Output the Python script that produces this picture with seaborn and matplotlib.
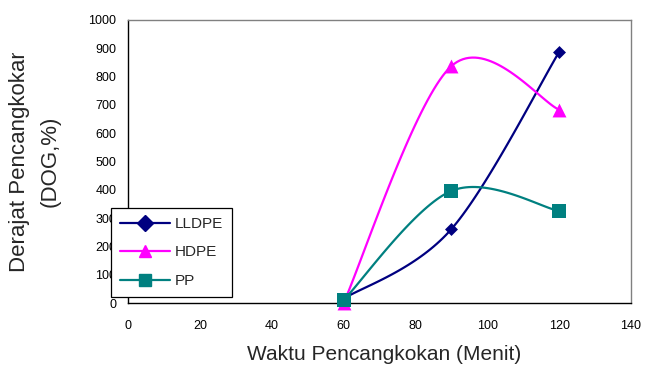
import numpy as np
import pandas as pd
import matplotlib
matplotlib.use("Agg")
import matplotlib.pyplot as plt
import seaborn as sns
from matplotlib.lines import Line2D
from matplotlib.transforms import Bbox

# Grafting time (minutes) and degree of grafting (%) for each polymer
waktu = [60, 90, 120]
lldpe = [15, 261, 887]
hdpe = [0, 837, 683]
pp = [10, 396, 325]
series_names = ["LLDPE", "HDPE", "PP"]
x_ticks = [0, 20, 40, 60, 80, 100, 120, 140]
y_ticks = [0, 100, 200, 300, 400, 500, 600, 700, 800, 900, 1000]

colors = {"LLDPE": "#000080", "HDPE": "#FF00FF", "PP": "#008080"}
markers = {"LLDPE": "D", "HDPE": "^", "PP": "s"}
msize = {"LLDPE": 6.6, "HDPE": 10, "PP": 10}


def smooth_curve(xs, ys, n=40):
    """Bezier smoothing through the points, tangents from neighbouring points."""
    P = np.column_stack([xs, ys]).astype(float)
    parts = [P[:1]]
    t = np.linspace(0, 1, n)[1:, None]
    for i in range(len(P) - 1):
        p0 = P[max(i - 1, 0)]
        p1 = P[i]
        p2 = P[i + 1]
        p3 = P[min(i + 2, len(P) - 1)]
        c1 = p1 + (p2 - p0) / 6.0
        c2 = p2 - (p3 - p1) / 6.0
        seg = ((1 - t) ** 3) * p1 + 3 * ((1 - t) ** 2) * t * c1 \
            + 3 * (1 - t) * (t ** 2) * c2 + (t ** 3) * p2
        parts.append(seg)
    return np.vstack(parts)


sns.set_style("white")
plt.rcParams["font.family"] = ["Liberation Sans", "DejaVu Sans"]

fig = plt.figure(figsize=(6.48, 3.68), dpi=100)
ax = fig.add_axes([128 / 648, 1 - 303 / 368, 503 / 648, 283 / 368])

values = {"LLDPE": lldpe, "HDPE": hdpe, "PP": pp}
for k, name in enumerate(series_names):
    curve = smooth_curve(waktu, values[name])
    df = pd.DataFrame({"x": curve[:, 0], "y": curve[:, 1]})
    sns.lineplot(data=df, x="x", y="y", sort=False, estimator=None,
                 color=colors[name], lw=1.6, ax=ax, zorder=2 + k)
for k, name in enumerate(series_names):
    sns.scatterplot(x=waktu, y=values[name], marker=markers[name],
                    s=msize[name] ** 2, color=colors[name], linewidth=0,
                    ax=ax, zorder=6 + k, clip_on=False)

ax.set_xlim(0, 140)
ax.set_ylim(0, 1000)
ax.set_xticks(x_ticks)
ax.set_yticks(y_ticks)
ax.set_xlabel("")
ax.set_ylabel("")
ax.tick_params(axis="both", direction="out", length=4, width=1,
               color="black", labelsize=9, labelcolor="black")
ax.tick_params(axis="x", pad=8)
ax.tick_params(axis="y", pad=4.3)

for side in ("left", "bottom"):
    ax.spines[side].set_color("black")
    ax.spines[side].set_linewidth(1)
for side in ("top", "right"):
    ax.spines[side].set_color("#808080")
    ax.spines[side].set_linewidth(1)

handles = [Line2D([], [], color=colors[n], lw=1.6, marker=markers[n],
                  markersize=(8 if n == "LLDPE" else 9)) for n in series_names]
leg = ax.legend(handles, series_names, loc="lower left",
                bbox_to_anchor=(-0.034, 0.021), borderaxespad=0,
                fontsize=11, fancybox=False, framealpha=1,
                edgecolor="black", handlelength=3.3, handletextpad=0.3,
                labelspacing=0.95, borderpad=0.6)
leg.get_frame().set_linewidth(0.9)
leg.set_zorder(20)

fig.text(384 / 648, 1 - 355 / 368, "Waktu Pencangkokan (Menit)",
         ha="center", va="center", fontsize=15)
yl1 = fig.text(20 / 648, 1 - 159 / 368, "Derajat Pencangkokan",
               ha="center", va="center", rotation=90, fontsize=16)
yl1.set_clip_box(Bbox.from_extents(0, 0, 648, 368 - 53))
yl1.set_clip_on(True)
fig.text(50 / 648, 1 - 161 / 368, "(DOG,%)",
         ha="center", va="center", rotation=90, fontsize=16)

fig.savefig("out.png", dpi=100, facecolor="white")
